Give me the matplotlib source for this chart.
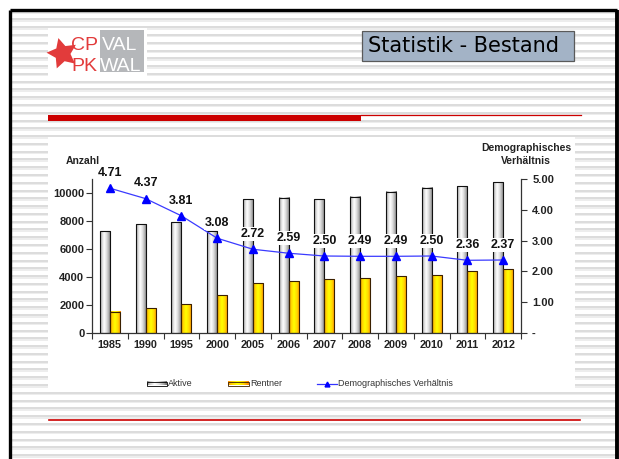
import numpy as np
import matplotlib
matplotlib.use('Agg')
import matplotlib.pyplot as plt
from matplotlib.patches import Rectangle

years = ['1985', '1990', '1995', '2000', '2005', '2006', '2007', '2008', '2009', '2010', '2011', '2012']
aktive = [7300, 7800, 7950, 7300, 9570, 9690, 9570, 9760, 10120, 10410, 10530, 10820]
rentner = [1520, 1760, 2070, 2720, 3530, 3700, 3820, 3890, 4060, 4140, 4420, 4540]
ratio = [4.71, 4.37, 3.81, 3.08, 2.72, 2.59, 2.50, 2.49, 2.49, 2.50, 2.36, 2.37]
left_ticks = [0, 2000, 4000, 6000, 8000, 10000]
right_ticks = [0, 1, 2, 3, 4, 5]
right_labels = ['-', '1.00', '2.00', '3.00', '4.00', '5.00']

FONT = 'Liberation Sans'
W, H = 619, 459


def gradient(stops, n=64):
    # horizontal colour gradient, one row image
    pos = np.array([s[0] for s in stops])
    cols = np.array([s[1] for s in stops])
    t = np.linspace(0, 1, n)
    rgb = np.stack([np.interp(t, pos, cols[:, k]) for k in range(3)], axis=-1)
    return rgb[np.newaxis, :, :]


grad_gray = gradient([(0, (0.45, 0.45, 0.45)), (0.12, (0.78, 0.78, 0.78)),
                      (0.38, (1, 1, 1)), (0.6, (0.88, 0.88, 0.88)),
                      (0.85, (0.65, 0.65, 0.65)), (1, (0.42, 0.42, 0.42))])
grad_gold = gradient([(0, (1, 0.55, 0)), (0.15, (1, 0.8, 0)), (0.45, (1, 1, 0)),
                      (0.75, (1, 0.85, 0)), (1, (1, 0.5, 0))])

fig = plt.figure(figsize=(W / 100, H / 100), dpi=100)

# slide background
bg = fig.add_axes([0, 0, 1, 1])
bg.set_xlim(0, W)
bg.set_ylim(H, 0)
bg.axis('off')
for y in np.arange(10.6, H, 7.78):
    bg.add_patch(Rectangle((10, y), 606, 2, fc='#dcdcdc', ec='none'))
    bg.add_patch(Rectangle((10, y + 2), 606, 1.5, fc='#ededed', ec='none'))

bg.plot([9.5, 9.5], [9.5, H], color='black', lw=2.4, solid_capstyle='butt')
bg.plot([9.5, 617], [9.5, 9.5], color='black', lw=2.4, solid_capstyle='butt')
bg.plot([617, 617], [9.5, H], color='black', lw=2.8, solid_capstyle='butt')

# logo
bg.add_patch(Rectangle((48, 28), 99, 49, fc='white', ec='none'))
bg.add_patch(Rectangle((100, 30), 44, 42, fc='#b5b7ba', ec='none'))
bg.plot(62, 53, marker=(5, 1, 15), ms=23, color='#e23b3b', mec='none')
bg.text(71, 50, 'CP', color='#e23b3b', fontsize=14, family=FONT, va='baseline')
bg.text(71, 71, 'PK', color='#e23b3b', fontsize=14, family=FONT, va='baseline')
bg.text(102, 50, 'VAL', color='white', fontsize=14, family=FONT, va='baseline')
bg.text(100, 71, 'WAL', color='white', fontsize=14, family=FONT, va='baseline')

# title box
bg.add_patch(Rectangle((362, 31), 212, 30, fc='#a3b3c6', ec='#5a5a5a', lw=0.9))
bg.text(368, 46.5, 'Statistik - Bestand', fontsize=15, family='DejaVu Sans',
        va='center', ha='left', color='black')

# red rules
bg.add_patch(Rectangle((48, 114.5), 313, 6.5, fc='#cc0000', ec='none'))
bg.plot([361, 581], [114.8, 114.8], color='#cc0000', lw=0.9)
bg.plot([49, 580], [420, 420], color='#cc0000', lw=1.2)

# chart area
bg.add_patch(Rectangle((48, 137), 527, 255, fc='white', ec='none'))
bg.text(66, 161, 'Anzahl', fontsize=7.5, fontweight='bold', family=FONT,
        va='center', ha='left', color='#222222')
bg.text(526, 148, 'Demographisches', fontsize=7.5, fontweight='bold', family=FONT,
        va='center', ha='center', color='#222222')
bg.text(526, 161, 'Verhältnis', fontsize=7.5, fontweight='bold', family=FONT,
        va='center', ha='center', color='#222222')

# legend
bg.imshow(grad_gray, extent=[147, 167, 385.5, 381.5], aspect='auto', zorder=3)
bg.add_patch(Rectangle((147, 381.5), 20, 4, fc='none', ec='black', lw=0.6, zorder=4))
bg.text(168, 383.5, 'Aktive', fontsize=6.5, family=FONT, va='center', color='#333333')
bg.imshow(grad_gold, extent=[228, 249, 385.5, 381.5], aspect='auto', zorder=3)
bg.add_patch(Rectangle((228, 381.5), 21, 4, fc='none', ec='#3a2000', lw=0.6, zorder=4))
bg.text(250, 383.5, 'Rentner', fontsize=6.5, family=FONT, va='center', color='#333333')
bg.plot([317, 337], [383.5, 383.5], color='#3333ff', lw=0.9)
bg.plot(327, 383.5, marker='^', ms=3.5, color='#0000ff')
bg.text(338, 383.5, 'Demographisches Verhältnis', fontsize=6.5, family=FONT,
        va='center', color='#333333')
bg.set_xlim(0, W)
bg.set_ylim(H, 0)

# bars
ax = fig.add_axes([92 / W, 1 - 332.7 / H, 429 / W, 153.4 / H])
ax.set_facecolor('none')
x = np.arange(len(years))
w = 0.28
bars_a = ax.bar(x - w / 2, aktive, w, fc='none', ec='#111111', lw=0.8, zorder=3)
bars_r = ax.bar(x + w / 2, rentner, w, fc='none', ec='#3a2000', lw=0.8, zorder=3)
for bars, grad in ((bars_a, grad_gray), (bars_r, grad_gold)):
    for b in bars:
        ax.imshow(grad, extent=[b.get_x(), b.get_x() + b.get_width(), 0, b.get_height()],
                  aspect='auto', zorder=2, interpolation='bilinear')
ax.set_xlim(-0.5, len(years) - 0.5)
ax.set_ylim(0, 11000)
ax.set_yticks(left_ticks)
ax.set_yticklabels([str(t) for t in left_ticks], fontsize=8, fontweight='bold', family=FONT)
ax.set_xticks(x)
ax.set_xticklabels(years, fontsize=7.8, fontweight='bold', family=FONT)
ax.set_xticks(np.arange(-0.5, len(years), 1), minor=True)
ax.tick_params(axis='x', which='major', length=0, pad=5, colors='#222222')
ax.tick_params(axis='x', which='minor', length=4, width=0.8, color='#333333')
ax.tick_params(axis='y', length=4, width=0.8, pad=1.5, color='#333333', labelcolor='#222222')
for s in ('top', 'right'):
    ax.spines[s].set_visible(False)
for s in ('left', 'bottom'):
    ax.spines[s].set_color('#333333')
    ax.spines[s].set_linewidth(0.9)

# ratio line
ax2 = ax.twinx()
ax2.set_ylim(0, 5)
ax2.set_yticks(right_ticks)
ax2.set_yticklabels(right_labels, fontsize=8, fontweight='bold', family=FONT)
ax2.tick_params(axis='y', length=4, width=0.8, pad=4, color='#333333', labelcolor='#222222')
for s in ('top', 'left', 'bottom'):
    ax2.spines[s].set_visible(False)
ax2.spines['right'].set_color('#333333')
ax2.spines['right'].set_linewidth(0.9)
ax2.plot(x, ratio, color='#3a3aff', lw=0.9, marker='^', ms=6, mfc='#0000ff',
         mec='#0000ff', zorder=3)
for xi, r in zip(x, ratio):
    ax2.annotate(f'{r:.2f}', (xi, r), xytext=(0, 11), textcoords='offset points',
                 ha='center', va='center', fontsize=9, fontweight='bold', family=FONT,
                 color='#111111', zorder=5,
                 bbox=dict(fc='white', ec='none', pad=0.8))

fig.savefig('out.png', dpi=100)
